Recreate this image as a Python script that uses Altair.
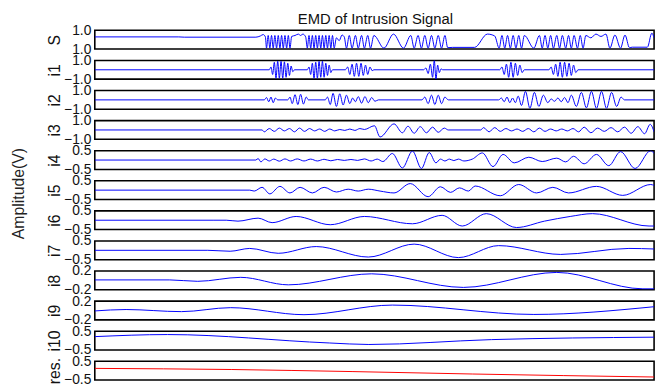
import altair as alt
import pandas as pd

FONT = "Liberation Sans"

# panel names (top to bottom) and y limits
names = ["S", "i1", "i2", "i3", "i4", "i5", "i6", "i7", "i8", "i9", "i10", "res."]
limits = [1.0, 1.0, 1.0, 1.0, 0.5, 0.5, 0.5, 0.5, 0.2, 0.2, 0.5, 0.5]

# sample index (0..1000) and values read at turning points
S_t = [0, 150, 160, 288, 296, 301, 305,
       307, 310, 313, 316, 319, 322, 325, 328, 331, 334, 337, 340, 343, 346, 349, 352,
       358, 364, 368, 372, 377,
       380, 383, 386, 389, 392, 395, 398, 401, 404, 407, 410, 413, 416, 419, 422, 425, 428,
       432, 437, 442, 446,
       450, 455, 460, 466, 471, 477, 482, 488, 493, 499,
       517, 534, 552, 565,
       571, 578, 584, 590, 596, 602, 608, 614, 620, 626, 631,
       640, 679, 702, 715,
       723, 728, 733, 738, 743, 748, 753, 758, 763, 768,
       785,
       795, 800, 805, 810, 815, 820, 826, 831, 836, 842, 847, 852, 857, 863, 868, 873, 878,
       887, 896, 905, 914, 921, 930, 940, 948, 956, 961, 988, 996, 1000]
S_v = [0.3, 0.3, 0.27, 0.27, 0.4, 0.55, 0.3,
       -0.9, 0.45, -0.9, 0.45, -0.9, 0.45, -0.9, 0.45, -0.9, 0.45, -0.9, 0.45, -0.9, 0.45, -0.9, 0.35,
       0.45, 0.6, 0.45, 0.6, 0.3,
       -0.9, 0.45, -0.9, 0.45, -0.9, 0.45, -0.9, 0.45, -0.9, 0.45, -0.9, 0.45, -0.9, 0.45, -0.9, 0.45, -0.9,
       0.2, -0.1, 0.5, 0.3,
       -0.9, 0.45, -0.9, 0.45, -0.9, 0.45, -0.9, 0.45, -0.9, 0.45,
       -0.9, 0.6, -0.9, 0.45,
       -0.9, 0.45, -0.9, 0.45, -0.9, 0.45, -0.9, 0.45, -0.9, 0.45, -0.85,
       -0.82, -0.82, 0.6, 0.4,
       -0.9, 0.45, -0.9, 0.45, -0.9, 0.45, -0.9, 0.45, -0.9, 0.45,
       -0.9,
       0.45, -0.9, 0.45, -0.9, 0.45, -0.9, 0.45, -0.9, 0.45, -0.9, 0.45, -0.9, 0.45, -0.9, 0.45, -0.9, 0.45,
       0.2, 0.6, 0.35, 0.6, -0.9, 0.5, -0.9, 0.5, -0.85, -0.8, -0.8, 0.7, 0.2]

i1_t = [0, 312, 315, 318, 321, 324, 327, 330, 333, 336, 339, 342, 345, 348, 351, 354, 357,
        380, 383, 386, 389, 392, 395, 398, 401, 404, 407, 410, 413, 416, 419, 422, 425,
        448, 452, 456, 460, 464, 468, 472, 476, 480, 484, 488, 492, 496, 499,
        588, 592, 596, 600, 604, 607, 610, 613, 616, 619, 622,
        724, 728, 732, 736, 740, 744, 748, 752, 756, 760, 764, 768,
        812, 816, 820, 824, 828, 832, 836, 840, 844, 848, 852, 856, 860, 864, 1000]
i1_v = [0, 0, 0.3, -0.5, 0.8, -0.9, 0.9, -0.9, 0.9, -0.9, 0.85, -0.8, 0.7, -0.6, 0.4, -0.2, 0,
        0, 0.3, -0.5, 0.7, -0.9, 0.8, -0.9, 0.9, -0.8, 0.9, -0.8, 0.7, -0.6, 0.5, -0.3, 0,
        0, 0.3, -0.5, 0.6, -0.7, 0.7, -0.7, 0.7, -0.6, 0.5, -0.5, 0.3, -0.1, 0,
        0, 0.2, -0.4, 0.6, -0.8, 1.0, -1.0, 0.5, -0.3, 0.1, 0,
        0, 0.3, -0.5, 0.6, -0.8, 0.8, -0.8, 0.7, -0.6, 0.5, -0.3, 0,
        0, 0.3, -0.5, 0.6, -0.7, 0.8, -0.8, 0.8, -0.7, 0.7, -0.6, 0.5, -0.3, 0, 0]

i2_t = [0, 303, 307, 311, 315, 319, 323, 327,
        345, 349, 353, 358, 363, 368, 373, 378, 382,
        412, 416, 421, 426, 432, 438, 444, 450, 456, 461, 466, 471, 477, 483, 489, 495, 501, 507,
        585, 590, 596, 602, 608, 614, 620, 626, 632,
        722, 727, 732, 737, 742, 747, 752, 757, 763, 770, 778, 786, 794, 802, 810, 816,
        822, 828, 834, 840, 846, 852, 861, 870, 879, 888, 897, 906, 915, 924, 933, 941, 947, 1000]
i2_v = [0, 0, 0.25, -0.2, 0.3, -0.3, 0.2, 0,
        0, 0.3, -0.4, 0.55, -0.5, 0.6, -0.45, 0.3, 0,
        0, 0.3, -0.5, 0.7, -0.7, 0.65, -0.55, 0.5, -0.4, 0.2, -0.2, 0.35, -0.35, 0.35, -0.3, 0.25, -0.15, 0,
        0, 0.3, -0.4, 0.5, -0.5, 0.5, -0.4, 0.3, 0,
        0, 0.2, -0.2, 0.3, -0.3, 0.2, -0.3, 0.4, -0.6, 0.9, -0.9, 0.8, -0.7, 0.5, -0.3, 0.1,
        -0.15, 0.2, -0.2, 0.25, -0.3, 0.5, -0.7, 0.8, -0.85, 0.9, -0.9, 0.9, -0.9, 0.8, -0.7, 0.3, 0, 0]

i3_t = [0, 299, 303, 312, 321, 330, 339, 348, 357, 366, 375, 384, 393, 402, 411, 420, 429, 438, 447,
        456, 465, 474, 482, 500, 510, 535, 550, 560, 571, 582, 593, 604, 614, 625, 632,
        690, 695, 705, 715, 725, 735, 745, 755, 765, 775, 785, 795, 805, 815, 825, 835, 845,
        855, 865, 875, 887, 899, 911, 923, 935, 947, 959, 971, 983, 993, 1000]
i3_v = [0, 0, -0.2, 0.15, -0.15, 0.2, -0.1, 0.15, -0.2, 0.2, -0.15, 0.15, -0.1, 0.1, -0.15, 0.1, -0.1, 0.05, -0.05,
        0.1, -0.05, 0.15, 0.05, 0.45, -0.75, 0.65, -0.3, 0.4, -0.35, 0.35, -0.3, 0.3, -0.25, 0.2, 0,
        0, 0.25, -0.2, 0.25, -0.15, 0.15, -0.1, 0.1, -0.15, 0.15, -0.2, 0.2, -0.15, 0.1, -0.1, 0.1, -0.1,
        0.15, -0.2, 0.3, -0.3, 0.2, -0.15, 0.25, -0.2, 0.3, -0.35, 0.35, -0.4, 0.6, -0.2]

i4_t = [0, 288, 292, 297, 304, 312, 320, 330, 340, 350, 362, 374, 386, 398, 410, 422, 434, 446, 458, 470,
        482, 494, 505, 515, 532, 550, 568, 584, 598, 610, 618, 626, 634, 642, 650, 660, 675,
        693, 712, 730, 750, 776, 800, 826, 842, 856, 875, 897, 919, 940, 966, 994, 1000]
i4_v = [0, 0, 0.08, -0.1, 0.06, -0.05, 0.05, -0.06, 0.06, -0.05, 0.06, -0.05, 0.05, -0.05, 0.04, -0.04, 0.03, -0.02, 0.03, -0.02,
        0.06, -0.05, 0.05, -0.08, 0.35, -0.42, 0.48, -0.45, 0.4, -0.15, 0.05, -0.05, 0.05, -0.03, 0.05, -0.05, 0.05,
        0.38, -0.35, 0.3, -0.15, 0.15, -0.08, 0.1, -0.1, 0.2, -0.2, 0.3, -0.3, 0.45, -0.45, 0.5, 0.35]

i5_t = [0, 277, 285, 299, 313, 331, 349, 367, 389, 410, 432, 453, 471, 489, 510, 535, 564, 596,
        618, 636, 652, 668, 680, 725, 758, 790, 819, 847, 897, 944, 994, 1000]
i5_v = [0, 0, -0.05, 0.15, -0.2, 0.2, -0.15, 0.15, -0.15, 0.15, -0.1, 0.05, -0.05, 0.05, -0.05, -0.15, 0.35, -0.35,
        0.18, -0.12, 0.12, -0.05, 0.22, -0.3, 0.3, -0.15, 0.15, -0.15, 0.2, -0.28, 0.3, 0.25]

i6_t = [0, 213, 235, 256, 292, 317, 360, 421, 482, 568, 621, 657, 700, 754, 804, 850, 890, 991, 1000]
i6_v = [0, 0, 0, -0.05, 0.11, -0.13, 0.2, -0.24, 0.2, -0.19, 0.26, -0.31, 0.35, -0.39, -0.05, 0.2, 0.35, -0.31, -0.31]

i7_t = [0, 202, 242, 277, 328, 396, 489, 571, 650, 722, 833, 955, 1000]
i7_v = [0, 0, -0.05, 0.1, -0.16, 0.2, -0.36, 0.33, -0.39, 0.25, -0.22, 0.1, 0.07]

i8_t = [0, 134, 184, 261, 346, 495, 659, 826, 980, 1000]
i8_v = [0.01, 0.01, -0.02, 0.065, -0.095, 0.14, -0.15, 0.17, -0.18, -0.18]

i9_t = [0, 56, 155, 243, 374, 532, 785, 1000]
i9_v = [-0.01, 0.02, -0.025, 0.06, -0.09, 0.115, -0.085, 0.08]

i10_t = [0, 130, 420, 490, 709, 1000]
i10_v = [0.21, 0.32, -0.13, -0.21, 0.05, 0.18]

res_t = [0, 245, 460, 675, 1000]
res_v = [0.12, 0.06, -0.05, -0.18, -0.34]

series_t = [S_t, i1_t, i2_t, i3_t, i4_t, i5_t, i6_t, i7_t, i8_t, i9_t, i10_t, res_t]
series_v = [S_v, i1_v, i2_v, i3_v, i4_v, i5_v, i6_v, i7_v, i8_v, i9_v, i10_v, res_v]

W = 567
H = 19

panels = []
for k, name in enumerate(names):
    lim = limits[k]
    df = pd.DataFrame({"t": series_t[k], "v": series_v[k]})
    color = "#ff0000" if name == "res." else "#0000ff"
    if name == "S":
        lab = "format(abs(datum.value), '.1f')"
    else:
        lab = "format(datum.value, '.1f')"
    line = alt.Chart(df).mark_line(
        color=color, strokeWidth=1, interpolate="monotone", clip=True
    ).encode(
        x=alt.X("t:Q", scale=alt.Scale(domain=[0, 1000], nice=False, zero=False), axis=None),
        y=alt.Y("v:Q", scale=alt.Scale(domain=[-lim, lim], nice=False, zero=False),
                axis=alt.Axis(values=[-lim, lim], labelExpr=lab, ticks=False, tickSize=0,
                              domain=False, grid=False, labelPadding=4, labelFontSize=14,
                              labelFont=FONT, labelColor="#111111", labelFlush=False,
                              labelOverlap=False, labelBaseline="middle",
                              title=name, titleFont=FONT, titleFontSize=16,
                              titleFontWeight="normal", titleColor="#111111",
                              titleAngle=270, titleAlign="center", titleBaseline="middle",
                              titleX=-41, titleY=H / 2)),
    )
    layers = [line]
    if name == "S":
        ttl = alt.Chart(pd.DataFrame({"txt": ["EMD of Intrusion Signal"]})).mark_text(
            font=FONT, fontSize=15, color="#111111", baseline="middle", align="center"
        ).encode(text="txt:N", x=alt.value(W / 2 + 1), y=alt.value(-11))
        layers.append(ttl)
    if name == "i5":
        amp = alt.Chart(pd.DataFrame({"txt": ["Amplitude(V)"]})).mark_text(
            font=FONT, fontSize=16, color="#222222", baseline="middle", align="center", angle=270
        ).encode(text="txt:N", x=alt.value(-77), y=alt.value(13))
        layers.append(amp)
    panels.append(alt.layer(*layers).properties(width=W, height=H))

chart = alt.vconcat(*panels, spacing=11.5, bounds="flush").properties(
    padding={"left": 2, "top": 1, "right": 5, "bottom": 0}
).configure(
    font=FONT,
    view=alt.ViewConfig(stroke="#000000", strokeWidth=1.6),
)

chart.save("out.html", embed_options={"renderer": "svg", "actions": False})
